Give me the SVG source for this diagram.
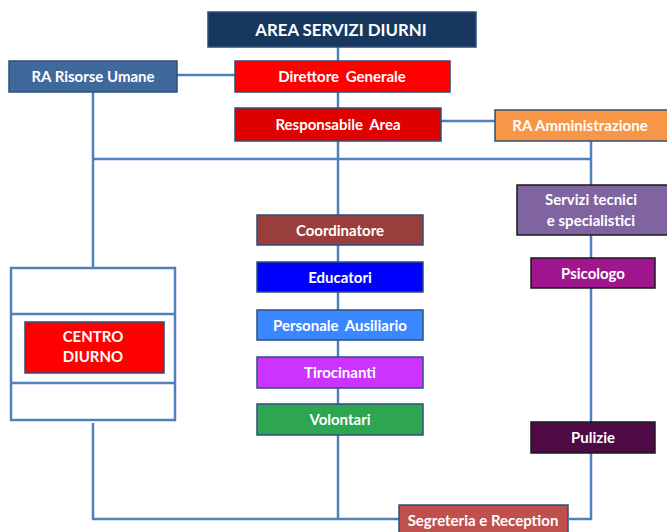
<svg xmlns="http://www.w3.org/2000/svg" width="667" height="532" viewBox="0 0 667 532">
<style>
.ln{fill:none;stroke:#4F81BD;stroke-width:2.5}
.bx{stroke:#2E4F7A;stroke-width:1.5}
.bk{stroke:#1a1a1a;stroke-width:1.5}
text{font-family:Lato,"Liberation Sans",sans-serif;font-weight:bold;fill:#fff;text-anchor:middle;font-size:15px}
text.ttl{font-size:16.8px}
</style>
<rect width="667" height="532" fill="#fff"/>
<g id="connectors">
<line class="ln" x1="338" y1="47" x2="338" y2="519"/>
<line class="ln" x1="177" y1="75" x2="235" y2="75"/>
<line class="ln" x1="441" y1="121" x2="495" y2="121"/>
<line class="ln" x1="93" y1="92" x2="93" y2="268"/>
<line class="ln" x1="93" y1="159" x2="591" y2="159"/>
<polyline class="ln" points="591,141 591,519 569,519"/>
<polyline class="ln" points="93,423 93,519 399,519"/>
</g>
<g id="centro-frame">
<rect class="ln" x="11" y="268" width="164" height="152"/>
<line class="ln" x1="11" y1="314" x2="175" y2="314"/>
<line class="ln" x1="11" y1="383" x2="175" y2="383"/>
</g>
<g id="title"><rect class="bx" x="208" y="12" width="268" height="35" fill="#17375E"/><text class="ttl" x="341" y="35.5">AREA SERVIZI DIURNI</text></g>
<g id="ra-risorse"><rect class="bx" x="9" y="61" width="168" height="31" fill="#40699B"/><text x="93" y="81.5">RA Risorse Umane</text></g>
<g id="direttore"><rect class="bx" x="235" y="61" width="215" height="31" fill="#FF0000"/><text x="342" y="81.5" word-spacing="3">Direttore Generale</text></g>
<g id="responsabile"><rect class="bx" x="235" y="108" width="206" height="33" fill="#DF0000"/><text x="338" y="130" word-spacing="3">Responsabile Area</text></g>
<g id="ra-amministrazione"><rect class="bx" x="495" y="110" width="175" height="31" fill="#F79646"/><text x="580" y="130.5">RA Amministrazione</text></g>
<g id="centro-diurno"><rect class="bx" x="25" y="322" width="139" height="51" fill="#FF0000"/><text x="93" y="341.5">CENTRO</text><text x="93" y="362">DIURNO</text></g>
<g id="coordinatore"><rect class="bx" x="257" y="215" width="166" height="30" fill="#9A3E3B"/><text x="340" y="235.5">Coordinatore</text></g>
<g id="educatori"><rect class="bx" x="257" y="262" width="166" height="30" fill="#0000FF"/><text x="340" y="282.5">Educatori</text></g>
<g id="personale"><rect class="bx" x="257" y="310" width="166" height="30" fill="#3A87FF"/><text x="340" y="330.5" word-spacing="3">Personale Ausiliario</text></g>
<g id="tirocinanti"><rect class="bx" x="257" y="357" width="166" height="31" fill="#CC33FF"/><text x="340" y="378">Tirocinanti</text></g>
<g id="volontari"><rect class="bx" x="257" y="404" width="166" height="31" fill="#2EA550"/><text x="340" y="425">Volontari</text></g>
<g id="servizi"><rect class="bk" x="517" y="185" width="152" height="50" fill="#8064A2"/><text x="591" y="205">Servizi tecnici</text><text x="591" y="226">e specialistici</text></g>
<g id="psicologo"><rect class="bk" x="531" y="258" width="124" height="30" fill="#A0168E"/><text x="593" y="278.5">Psicologo</text></g>
<g id="pulizie"><rect class="bk" x="531" y="422" width="124" height="31" fill="#4D0A45"/><text x="593" y="443">Pulizie</text></g>
<g id="segreteria"><rect class="bx" x="399" y="505" width="169" height="30" fill="#C0504D"/><text x="483" y="525.5">Segreteria e Reception</text></g>
</svg>
